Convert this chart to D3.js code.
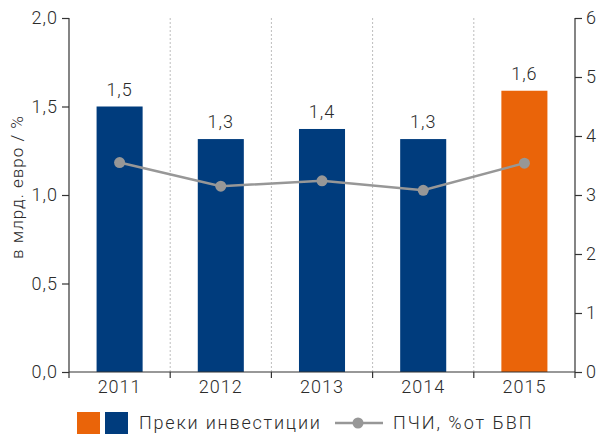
<!DOCTYPE html>
<html>
<head>
<meta charset="utf-8">
<script src="https://cdn.jsdelivr.net/npm/d3@7"></script>
<style>
  body { margin: 0; background: #fff; }
  svg text { font-family: Roboto, 'Liberation Sans', sans-serif; font-weight: 300; fill: #2b2b2b; letter-spacing: 1px; }
  .axis path, .axis line { stroke: #333; stroke-width: 1.2; }
  .grid line { stroke: #bdbdbd; stroke-dasharray: 2,2; }
</style>
</head>
<body>
<div id="chart"></div>
<script>
const years = ['2011', '2012', '2013', '2014', '2015'];
const investments = [1.5, 1.316, 1.373, 1.316, 1.589];
const investLabels = ['1,5', '1,3', '1,4', '1,3', '1,6'];
const fdiShare = [3.55, 3.15, 3.24, 3.08, 3.54];
const leftTicks = [0, 0.5, 1, 1.5, 2];
const rightTicks = [0, 1, 2, 3, 4, 5, 6];
const legendLabels = ['Преки инвестиции', 'ПЧИ, %от БВП'];

const navy = '#003c7d';
const orange = '#ea6409';
const grey = '#979797';

const size = { width: 603, height: 435 };
const plot = { left: 69, right: 575, top: 18, bottom: 372 };
const fontSize = '18px';

const svg = d3.select('#chart')
  .append('svg')
  .attr('width', size.width)
  .attr('height', size.height);

const x = d3.scaleBand()
  .domain(years)
  .range([plot.left, plot.right]);

const yLeft = d3.scaleLinear()
  .domain([0, 2])
  .range([plot.bottom, plot.top]);

const yRight = d3.scaleLinear()
  .domain([0, 6])
  .range([plot.bottom, plot.top]);

const barWidth = x.bandwidth() * 0.455;

// dotted separators between years
svg.append('g')
  .attr('class', 'grid')
  .selectAll('line')
  .data(years.slice(1))
  .enter().append('line')
  .attr('x1', d => x(d))
  .attr('x2', d => x(d))
  .attr('y1', plot.top)
  .attr('y2', plot.bottom);

svg.append('g')
  .selectAll('rect')
  .data(years)
  .enter().append('rect')
  .attr('x', d => x(d) + (x.bandwidth() - barWidth) / 2)
  .attr('y', (d, i) => yLeft(investments[i]))
  .attr('width', barWidth)
  .attr('height', (d, i) => plot.bottom - yLeft(investments[i]))
  .attr('fill', (d, i) => i === years.length - 1 ? orange : navy);

svg.append('g')
  .selectAll('text')
  .data(years)
  .enter().append('text')
  .attr('x', d => x(d) + x.bandwidth() / 2)
  .attr('y', (d, i) => yLeft(investments[i]) - 11)
  .attr('text-anchor', 'middle')
  .style('font-size', fontSize)
  .text((d, i) => investLabels[i]);

// axes
const fmt = d3.format('.1f');

svg.append('g')
  .attr('class', 'axis')
  .attr('transform', `translate(${plot.left},0)`)
  .call(d3.axisLeft(yLeft).tickValues(leftTicks).tickSize(7).tickSizeOuter(0)
    .tickFormat(d => fmt(d).replace('.', ',')))
  .call(g => g.selectAll('text').style('font-size', fontSize).attr('dx', '-1'))
  .call(g => g.select('.domain').attr('d', `M0,${plot.top}V${plot.bottom + 6}`));

svg.append('g')
  .attr('class', 'axis')
  .attr('transform', `translate(${plot.right},0)`)
  .call(d3.axisRight(yRight).tickValues(rightTicks).tickSize(7).tickSizeOuter(0)
    .tickFormat(d3.format('d')))
  .call(g => g.selectAll('text').style('font-size', fontSize).attr('dx', '1'))
  .call(g => g.select('.domain').attr('d', `M0,${plot.top}V${plot.bottom + 6}`));

const xAxis = svg.append('g')
  .attr('class', 'axis')
  .attr('transform', `translate(0,${plot.bottom})`)
  .call(d3.axisBottom(x).tickSize(0).tickSizeOuter(0))
  .call(g => g.selectAll('text').style('font-size', fontSize).attr('dy', '1.0em'))
  .call(g => g.select('.domain').attr('d', `M${plot.left},0H${plot.right}`));

xAxis.selectAll('.sep')
  .data(years.slice(1))
  .enter().append('line')
  .attr('x1', d => x(d))
  .attr('x2', d => x(d))
  .attr('y1', 0)
  .attr('y2', 6);

svg.append('text')
  .attr('transform', `translate(23,187) rotate(-90)`)
  .attr('text-anchor', 'middle')
  .style('font-size', '17px')
  .text('в млрд. евро / %');

// line series
const line = d3.line()
  .x((d, i) => x(years[i]) + x.bandwidth() / 2)
  .y(d => yRight(d));

svg.append('path')
  .attr('d', line(fdiShare))
  .attr('fill', 'none')
  .attr('stroke', grey)
  .attr('stroke-width', 2.5);

svg.append('g')
  .selectAll('circle')
  .data(fdiShare)
  .enter().append('circle')
  .attr('cx', (d, i) => x(years[i]) + x.bandwidth() / 2)
  .attr('cy', d => yRight(d))
  .attr('r', 5.5)
  .attr('fill', grey);

// legend
const legend = svg.append('g').attr('transform', 'translate(0,423)');

legend.append('rect')
  .attr('x', 77).attr('y', -11).attr('width', 23).attr('height', 22)
  .attr('fill', orange);
legend.append('rect')
  .attr('x', 105).attr('y', -11).attr('width', 23).attr('height', 22)
  .attr('fill', navy);
legend.append('text')
  .attr('x', 139).attr('y', 6)
  .style('font-size', fontSize)
  .style('letter-spacing', '1.8px')
  .text(legendLabels[0]);

legend.append('line')
  .attr('x1', 335).attr('x2', 383).attr('y1', 0).attr('y2', 0)
  .attr('stroke', grey).attr('stroke-width', 2.5);
legend.append('circle')
  .attr('cx', 358).attr('cy', 0).attr('r', 5.5)
  .attr('fill', grey);
legend.append('text')
  .attr('x', 393).attr('y', 6)
  .style('font-size', fontSize)
  .style('letter-spacing', '2px')
  .text(legendLabels[1]);
</script>
</body>
</html>
